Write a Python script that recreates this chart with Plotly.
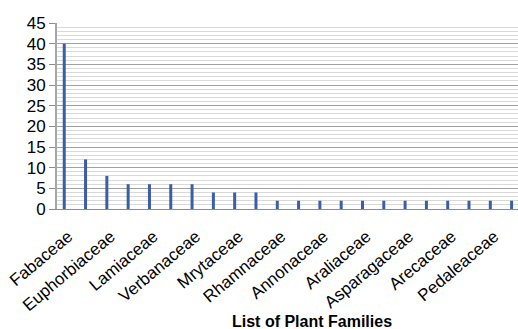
import plotly.graph_objects as go

families = ["Fabaceae", "Moraceae", "Euphorbiaceae", "Malvaceae", "Lamiaceae", "Apocynaceae",
            "Verbanaceae", "Rubiaceae", "Mrytaceae", "Meliaceae", "Rhamnaceae", "Rutaceae",
            "Annonaceae", "Anacardiaceae", "Araliaceae", "Poaceae", "Asparagaceae", "Sapindaceae",
            "Arecaceae", "Combretaceae", "Pedaleaceae", "Asteraceae"]
counts = [40, 12, 8, 6, 6, 6, 6, 4, 4, 4, 2, 2, 2, 2, 2, 2, 2, 2, 2, 2, 2, 2]
shown_labels = families[::2]
y_ticks = [0, 5, 10, 15, 20, 25, 30, 35, 40, 45]
x_title = "List of Plant Families"

fig = go.Figure(go.Bar(x=families, y=counts, marker=dict(color="#3A5DA8", line=dict(width=0)),
                       width=0.14))

fig.update_layout(
    width=518, height=329,
    margin=dict(l=57, r=0, t=23, b=120),
    plot_bgcolor="white", paper_bgcolor="white",
    showlegend=False,
    font=dict(family="Liberation Sans", color="#000000"),
)
fig.update_xaxes(
    type="category", categoryorder="array", categoryarray=families,
    range=[-0.34, 21.3],
    tickmode="array", tickvals=shown_labels, ticktext=shown_labels,
    tickangle=-40, tickfont=dict(size=17, family="Liberation Sans"),
    showgrid=False, showline=True, linecolor="#8C8C8C", linewidth=1,
    ticks="", ticklabelstandoff=10, ticklabelshift=4,
)
fig.update_yaxes(
    range=[0, 45], tickmode="array", tickvals=y_ticks,
    tickfont=dict(size=17, family="Liberation Sans"),
    showgrid=True, gridcolor="#A0A0A0", gridwidth=1,
    minor=dict(dtick=1, showgrid=True, gridcolor="#D9D9D9", gridwidth=1),
    showline=True, linecolor="#A6A6A6", linewidth=2,
    ticks="outside", ticklen=6, tickcolor="#8C8C8C",
    zeroline=False,
)
fig.add_annotation(text="<b>" + x_title + "</b>", xref="paper", yref="paper",
                   x=(312 - 57) / 461, y=-0.605, showarrow=False,
                   font=dict(size=16, family="Liberation Sans"), yanchor="middle")
fig.write_html("out.html")
